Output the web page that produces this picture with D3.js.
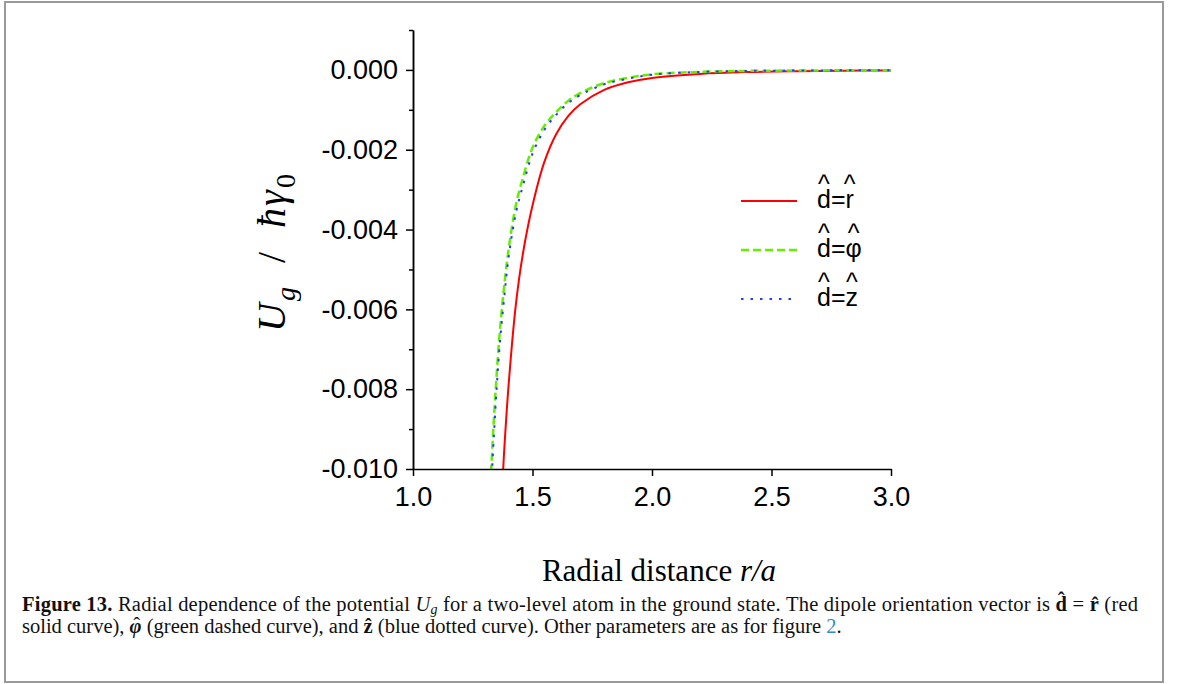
<!DOCTYPE html>
<html>
<head>
<meta charset="utf-8">
<script src="https://cdn.jsdelivr.net/npm/d3@7"></script>
<style>
  body { margin: 0; background: #fff; }
  svg { display: block; }
  .axis path, .axis line { stroke: #000; stroke-width: 1.5; }
  .axis text { font-family: "Liberation Sans", Arial, sans-serif; font-size: 27px; fill: #000; }
</style>
</head>
<body>
<div id="chart"></div>
<script>
// radial distance r/a, shared by all three curves
const rValues = [1.30, 1.32, 1.34, 1.36, 1.38, 1.40, 1.43, 1.46, 1.50, 1.55, 1.60, 1.65, 1.70, 1.80, 1.90, 2.00, 2.20, 2.40, 2.60, 2.80, 3.00]
// U_g / hbar gamma_0 (values below -0.010 are clipped)
const uRadial    = [-0.0249, -0.0193, -0.0151, -0.0120, -0.0097, -0.0079, -0.0059, -0.0046, -0.0034, -0.0023, -0.0016, -0.00115, -0.00086, -0.0005, -0.00031, -0.0002, -0.0001, -0.000053, -0.000031, -0.000019, -0.000013]
const uAzimuthal = [-0.0137, -0.0109, -0.0086, -0.0068, -0.0055, -0.0045, -0.0034, -0.0027, -0.00195, -0.0014, -0.00105, -0.00077, -0.00058, -0.00033, -0.0002, -0.00011, -0.00005, -0.000025, -0.000015, -0.00001, -0.000007]
const uAxial     = [-0.0142, -0.0114, -0.0090, -0.0071, -0.0058, -0.0047, -0.0036, -0.0029, -0.0021, -0.0015, -0.00112, -0.00083, -0.00063, -0.00036, -0.00022, -0.00012, -0.00005, -0.000026, -0.000016, -0.00001, -0.000007]

const xTicks = [1.0, 1.5, 2.0, 2.5, 3.0]
const yTicks = [0, -0.002, -0.004, -0.006, -0.008, -0.010]
const yMinorTicks = [0.001, -0.001, -0.003, -0.005, -0.007, -0.009]
const legendLabels = ['r', 'φ', 'z']

const W = 1179, H = 684
const plot = { left: 413, right: 891, top: 30, bottom: 469 }

const svg = d3.select('#chart').append('svg')
    .attr('width', W)
    .attr('height', H)

// figure frame
svg.append('rect')
    .attr('x', 5).attr('y', 2)
    .attr('width', 1158).attr('height', 680)
    .attr('fill', 'none')
    .attr('stroke', '#9a9a9a')
    .attr('stroke-width', 2)

const x = d3.scaleLinear().domain([1, 3]).range([plot.left, plot.right])
const y = d3.scaleLinear().domain([-0.010, 0.001]).range([plot.bottom, plot.top])

svg.append('clipPath').attr('id', 'clip')
    .append('rect')
    .attr('x', plot.left).attr('y', plot.top)
    .attr('width', plot.right - plot.left).attr('height', plot.bottom - plot.top)

const series = [
    { values: uRadial, color: '#ff0000', width: 2, dash: null },
    { values: uAzimuthal, color: '#66ee00', width: 2.5, dash: '8,4' },
    { values: uAxial, color: '#1c3cff', width: 2, dash: '2.5,7' }
]

const line = d3.line()
    .x(d => x(d[0]))
    .y(d => y(d[1]))
    .curve(d3.curveCatmullRom.alpha(0.5))

const curves = svg.append('g').attr('clip-path', 'url(#clip)')
series.forEach(s => {
    curves.append('path')
        .attr('d', line(rValues.map((r, i) => [r, s.values[i]])))
        .attr('fill', 'none')
        .attr('stroke', s.color)
        .attr('stroke-width', s.width)
        .attr('stroke-dasharray', s.dash)
})

// axes
const fmtY = d => d.toFixed(3).replace('-0.000', '0.000')
svg.append('g')
    .attr('class', 'axis')
    .attr('transform', `translate(${plot.left},0)`)
    .call(d3.axisLeft(y).tickValues(yTicks).tickFormat(fmtY).tickSize(7).tickSizeOuter(0).tickPadding(8))

svg.append('g')
    .attr('class', 'axis')
    .attr('transform', `translate(${plot.left},0)`)
    .call(d3.axisLeft(y).tickValues(yMinorTicks).tickFormat('').tickSize(4).tickSizeOuter(0))

svg.append('g')
    .attr('class', 'axis')
    .attr('transform', `translate(0,${plot.bottom})`)
    .call(d3.axisBottom(x).tickValues(xTicks).tickFormat(d3.format('.1f')).tickSize(7).tickSizeOuter(0).tickPadding(11))

// axis titles
svg.append('text')
    .attr('x', 659).attr('y', 581)
    .attr('text-anchor', 'middle')
    .style('font-family', '"Liberation Serif", "Times New Roman", serif')
    .style('font-size', '31px')
    .html('Radial distance <tspan font-style="italic">r/a</tspan>')

const yTitle = svg.append('text')
    .attr('transform', 'translate(285,252) rotate(-90)')
    .attr('text-anchor', 'middle')
    .style('font-family', '"Liberation Serif", "Times New Roman", serif')
    .style('font-size', '40px')
    .style('letter-spacing', '2px')
yTitle.append('tspan').attr('font-style', 'italic').text('U')
yTitle.append('tspan').attr('font-style', 'italic').attr('dy', 10).style('font-size', '28px').text('g')
yTitle.append('tspan').attr('dy', -10).text('\u2002/\u2002')
yTitle.append('tspan').attr('font-style', 'italic').text('ħγ')
yTitle.append('tspan').attr('dy', 10).style('font-size', '28px').text('0')

// legend
const legend = svg.append('g')
series.forEach((s, i) => {
    const ly = 201 + 49 * i
    legend.append('line')
        .attr('x1', 741).attr('x2', 797)
        .attr('y1', ly).attr('y2', ly)
        .attr('stroke', s.color)
        .attr('stroke-width', s.width)
        .attr('stroke-dasharray', s.dash)
    const t = legend.append('text')
        .style('font-family', '"Liberation Sans", Arial, sans-serif')
        .style('font-size', '25px')
    t.append('tspan')
        .attr('x', 817).attr('y', ly + 7)
        .text('d=' + legendLabels[i])
    const node = t.node()
    const hats = [0, 2].map(ci => {
        const box = node.getExtentOfChar(ci)
        return box.x + box.width / 2
    })
    hats.forEach(hx => {
        t.append('tspan')
            .attr('x', hx).attr('y', ly - 8)
            .attr('text-anchor', 'middle')
            .text('^')
    })
})

// caption
const cap = svg.append('g')
    .style('font-family', '"Liberation Serif", "Times New Roman", serif')
    .style('font-size', '20.5px')
    .style('fill', '#111')
const l1 = cap.append('text').attr('x', 22).attr('y', 611)
    .attr('textLength', 1116).attr('lengthAdjust', 'spacing')
l1.append('tspan').attr('font-weight', 'bold').text('Figure 13.')
l1.append('tspan').text(' Radial dependence of the potential ')
l1.append('tspan').attr('font-style', 'italic').text('U')
l1.append('tspan').attr('font-style', 'italic').attr('dy', 3).style('font-size', '14px').text('g')
l1.append('tspan').attr('dy', -3).text(' for a two-level atom in the ground state. The dipole orientation vector is ')
l1.append('tspan').attr('font-weight', 'bold').text('d\u0302')
l1.append('tspan').text(' = ')
l1.append('tspan').attr('font-weight', 'bold').text('r\u0302')
l1.append('tspan').text(' (red')

const l2 = cap.append('text').attr('x', 22).attr('y', 633)
l2.append('tspan').text('solid curve), ')
const phi = l2.append('tspan').attr('font-weight', 'bold').attr('font-style', 'italic').text('φ')
const hat = l2.append('tspan').attr('dy', -1).text('\u02C6')
const after = l2.append('tspan').attr('dy', 1).text(' (green dashed curve), and ')
l2.append('tspan').attr('font-weight', 'bold').text('z\u0302')
l2.append('tspan').text(' (blue dotted curve). Other parameters are as for figure ')
l2.append('tspan').style('fill', '#2b8fca').text('2')
l2.append('tspan').text('.')

// centre the circumflex over the phi
const phiW = phi.node().getComputedTextLength()
const hatW = hat.node().getComputedTextLength()
hat.attr('dx', -(phiW + hatW) / 2 + 1)
after.attr('dx', (phiW - hatW) / 2 - 1)
</script>
</body>
</html>
